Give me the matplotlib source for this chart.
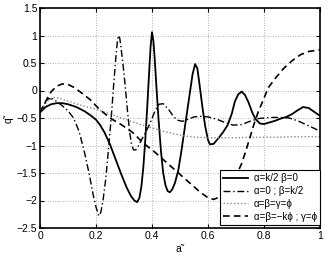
import matplotlib
matplotlib.use("Agg")
import matplotlib.pyplot as plt

plt.rcParams['font.family'] = ['Liberation Sans', 'DejaVu Sans']
plt.rcParams['axes.unicode_minus'] = True

# ---- data ----
x_solid = [0, 0.02, 0.04, 0.06, 0.08, 0.1, 0.13, 0.16, 0.18, 0.2, 0.215, 0.23, 0.25, 0.27,
           0.29, 0.31, 0.325, 0.337, 0.347, 0.355, 0.362, 0.369, 0.376, 0.383, 0.39, 0.395,
           0.40, 0.405, 0.41, 0.416, 0.423, 0.432, 0.44, 0.448, 0.456, 0.464, 0.472, 0.482,
           0.494, 0.505, 0.515, 0.525, 0.535, 0.545, 0.554, 0.562, 0.57, 0.58, 0.59, 0.6,
           0.607, 0.62, 0.637, 0.655, 0.67, 0.685, 0.696, 0.708, 0.72, 0.732, 0.745, 0.758,
           0.77, 0.785, 0.8, 0.82, 0.84, 0.86, 0.88, 0.9, 0.92, 0.94, 0.96, 0.98, 1.0]
y_solid = [-0.4, -0.3, -0.25, -0.23, -0.23, -0.25, -0.3, -0.38, -0.45, -0.53, -0.63, -0.76,
           -0.98, -1.25, -1.52, -1.77, -1.92, -2.0, -2.03, -1.95, -1.75, -1.4, -0.9, -0.3,
           0.35, 0.8, 1.06, 0.9, 0.55, 0.05, -0.5, -1.1, -1.5, -1.72, -1.83, -1.85, -1.8,
           -1.68, -1.45, -1.1, -0.75, -0.4, -0.05, 0.3, 0.48, 0.4, 0.1, -0.3, -0.65, -0.9,
           -0.98, -0.97, -0.87, -0.75, -0.63, -0.42, -0.2, -0.07, -0.02, -0.08, -0.22, -0.4,
           -0.52, -0.6, -0.61, -0.58, -0.55, -0.51, -0.48, -0.43, -0.36, -0.3, -0.32, -0.39, -0.46]

x_dashdot = [0, 0.015, 0.03, 0.045, 0.06, 0.08, 0.1, 0.12, 0.14, 0.16, 0.175, 0.19, 0.2,
             0.21, 0.217, 0.225, 0.235, 0.245, 0.255, 0.263, 0.27, 0.276, 0.28, 0.285, 0.29,
             0.297, 0.304, 0.312, 0.32, 0.327, 0.334, 0.342, 0.35, 0.36, 0.375, 0.393, 0.41,
             0.425, 0.44, 0.46, 0.475, 0.49, 0.51, 0.53, 0.55, 0.575, 0.6, 0.63, 0.66, 0.69,
             0.72, 0.75, 0.78, 0.82, 0.86, 0.89, 0.92, 0.95, 0.98, 1.0]
y_dashdot = [-0.4, -0.25, -0.15, -0.15, -0.2, -0.28, -0.37, -0.5, -0.75, -1.15, -1.5, -1.9,
             -2.12, -2.28, -2.22, -2.0, -1.6, -1.05, -0.45, 0.1, 0.55, 0.88, 1.0, 0.95, 0.75,
             0.45, 0.1, -0.35, -0.75, -0.98, -1.08, -1.08, -1.02, -0.92, -0.78, -0.6, -0.38,
             -0.25, -0.24, -0.35, -0.46, -0.54, -0.56, -0.52, -0.48, -0.47, -0.48, -0.52,
             -0.58, -0.63, -0.62, -0.56, -0.51, -0.49, -0.49, -0.5, -0.55, -0.62, -0.69, -0.74]

x_dotted = [0, 0.015, 0.03, 0.045, 0.06, 0.08, 0.11, 0.14, 0.17, 0.2, 0.24, 0.28, 0.32, 0.36,
            0.4, 0.44, 0.48, 0.52, 0.56, 0.6, 0.65, 0.7, 0.75, 0.8, 0.85, 0.9, 0.95, 1.0]
y_dotted = [-0.4, -0.27, -0.17, -0.13, -0.13, -0.16, -0.21, -0.26, -0.3, -0.34, -0.41, -0.48,
            -0.55, -0.62, -0.68, -0.74, -0.79, -0.83, -0.85, -0.86, -0.86, -0.86, -0.85,
            -0.85, -0.85, -0.84, -0.84, -0.84]

x_dashed = [0, 0.02, 0.04, 0.06, 0.08, 0.1, 0.12, 0.15, 0.18, 0.21, 0.25, 0.29, 0.33, 0.37,
            0.41, 0.45, 0.49, 0.53, 0.57, 0.6, 0.62, 0.645, 0.67, 0.69, 0.705, 0.72, 0.735,
            0.75, 0.765, 0.78, 0.8, 0.815, 0.84, 0.87, 0.9, 0.93, 0.96, 1.0]
y_dashed = [-0.4, -0.2, -0.02, 0.08, 0.12, 0.11, 0.06, -0.05, -0.17, -0.33, -0.5, -0.62,
            -0.76, -0.96, -1.12, -1.3, -1.48, -1.66, -1.84, -1.95, -1.98, -1.93, -1.8,
            -1.65, -1.5, -1.33, -1.1, -0.85, -0.6, -0.38, -0.14, 0.05, 0.22, 0.4, 0.54,
            0.65, 0.71, 0.74]

labels = ['α=k/2 β=0', 'α=0 ; β=k/2', 'α=β=γ=ϕ', 'α=β=−kϕ ; γ=ϕ']
x_ticks = [0, 0.2, 0.4, 0.6, 0.8, 1]
x_ticklabels = ['0', '0.2', '0.4', '0.6', '0.8', '1']
y_ticks = [-2.5, -2, -1.5, -1, -0.5, 0, 0.5, 1, 1.5]
y_ticklabels = ['−2.5', '−2', '−1.5', '−1', '−0.5', '0', '0.5', '1', '1.5']

# ---- figure ----
fig = plt.figure(figsize=(3.25, 2.56), dpi=100)
ax = fig.add_axes([40/325, 28/256, 280/325, 220/256])

ax.plot(x_solid, y_solid, color='black', lw=1.3, ls='-', label=labels[0])
ax.plot(x_dashdot, y_dashdot, color='black', lw=1.0, ls=(0, (5, 2, 1, 2)), label=labels[1])
ax.plot(x_dotted, y_dotted, color='#888888', lw=1.0, ls=(0, (1, 1.5)), label=labels[2])
ax.plot(x_dashed, y_dashed, color='black', lw=1.2, ls=(0, (4, 2.5)), label=labels[3])

ax.set_xlim(0, 1)
ax.set_ylim(-2.5, 1.5)
ax.set_xticks(x_ticks)
ax.set_xticklabels(x_ticklabels)
ax.set_yticks(y_ticks)
ax.set_yticklabels(y_ticklabels)
ax.tick_params(direction='in', length=3, width=0.8, labelsize=7.5, top=True, right=True, pad=2)
ax.grid(True, ls=(0, (1, 2)), color='#999999', lw=0.6)
for s in ax.spines.values():
    s.set_linewidth(1.2)

ax.set_xlabel('a˜', fontsize=7.5, labelpad=2)
ax.set_ylabel('q˜', fontsize=7.5, labelpad=2)

leg = ax.legend(loc='lower right', bbox_to_anchor=(1.0, 0.015), fontsize=7, frameon=True,
                fancybox=False, edgecolor='black', framealpha=1, borderpad=0.3,
                labelspacing=0.3, handlelength=2.6, handletextpad=0.6, borderaxespad=0)
leg.get_frame().set_linewidth(0.8)

fig.savefig('out.png', dpi=100)
